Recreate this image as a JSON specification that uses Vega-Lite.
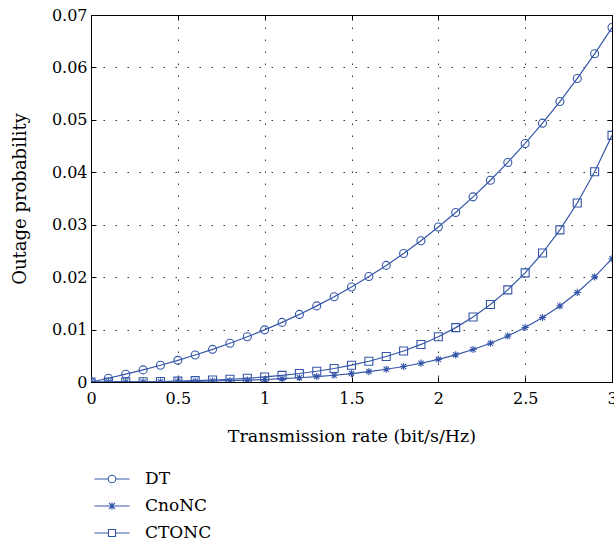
{
  "$schema": "https://vega.github.io/schema/vega-lite/v6.json",
  "autosize": "none",
  "width": 521,
  "height": 367,
  "padding": {"left": 91, "top": 15, "right": 2, "bottom": 166},
  "config": {"view": {"stroke": "#000", "strokeWidth": 1}, "font": "DejaVu Serif"},
  "data": {"values": [
    {"rate":0,"series":"DT","p":0},{"rate":0.1,"series":"DT","p":0.000717},{"rate":0.2,"series":"DT","p":0.001486},{"rate":0.3,"series":"DT","p":0.002309},{"rate":0.4,"series":"DT","p":0.00319},{"rate":0.5,"series":"DT","p":0.004134},{"rate":0.6,"series":"DT","p":0.005144},{"rate":0.7,"series":"DT","p":0.006226},{"rate":0.8,"series":"DT","p":0.007384},{"rate":0.9,"series":"DT","p":0.008623},{"rate":1,"series":"DT","p":0.00995},{"rate":1.1,"series":"DT","p":0.01137},{"rate":1.2,"series":"DT","p":0.01289},{"rate":1.3,"series":"DT","p":0.014516},{"rate":1.4,"series":"DT","p":0.016256},{"rate":1.5,"series":"DT","p":0.018117},{"rate":1.6,"series":"DT","p":0.02011},{"rate":1.7,"series":"DT","p":0.022239},{"rate":1.8,"series":"DT","p":0.024517},{"rate":1.9,"series":"DT","p":0.026952},{"rate":2,"series":"DT","p":0.029554},{"rate":2.1,"series":"DT","p":0.032337},{"rate":2.2,"series":"DT","p":0.03531},{"rate":2.3,"series":"DT","p":0.038486},{"rate":2.4,"series":"DT","p":0.041878},{"rate":2.5,"series":"DT","p":0.045501},{"rate":2.6,"series":"DT","p":0.049369},{"rate":2.7,"series":"DT","p":0.053497},{"rate":2.8,"series":"DT","p":0.0579},{"rate":2.9,"series":"DT","p":0.062599},{"rate":3,"series":"DT","p":0.067606},
    {"rate":0,"series":"CnoNC","p":0},{"rate":0.1,"series":"CnoNC","p":0.0000025},{"rate":0.2,"series":"CnoNC","p":0.0000106},{"rate":0.3,"series":"CnoNC","p":0.0000256},{"rate":0.4,"series":"CnoNC","p":0.000049},{"rate":0.5,"series":"CnoNC","p":0.0000824},{"rate":0.6,"series":"CnoNC","p":0.000128},{"rate":0.7,"series":"CnoNC","p":0.000187},{"rate":0.8,"series":"CnoNC","p":0.000264},{"rate":0.9,"series":"CnoNC","p":0.00036},{"rate":1,"series":"CnoNC","p":0.00048},{"rate":1.1,"series":"CnoNC","p":0.000628},{"rate":1.2,"series":"CnoNC","p":0.000808},{"rate":1.3,"series":"CnoNC","p":0.001026},{"rate":1.4,"series":"CnoNC","p":0.001289},{"rate":1.5,"series":"CnoNC","p":0.001605},{"rate":1.6,"series":"CnoNC","p":0.001981},{"rate":1.7,"series":"CnoNC","p":0.002428},{"rate":1.8,"series":"CnoNC","p":0.002957},{"rate":1.9,"series":"CnoNC","p":0.003583},{"rate":2,"series":"CnoNC","p":0.00432},{"rate":2.1,"series":"CnoNC","p":0.005186},{"rate":2.2,"series":"CnoNC","p":0.006203},{"rate":2.3,"series":"CnoNC","p":0.007393},{"rate":2.4,"series":"CnoNC","p":0.008785},{"rate":2.5,"series":"CnoNC","p":0.010409},{"rate":2.6,"series":"CnoNC","p":0.012304},{"rate":2.7,"series":"CnoNC","p":0.01451},{"rate":2.8,"series":"CnoNC","p":0.017076},{"rate":2.9,"series":"CnoNC","p":0.020058},{"rate":3,"series":"CnoNC","p":0.02352},
    {"rate":0,"series":"CTONC","p":0},{"rate":0.1,"series":"CTONC","p":0.000005},{"rate":0.2,"series":"CTONC","p":0.000021},{"rate":0.3,"series":"CTONC","p":0.000051},{"rate":0.4,"series":"CTONC","p":0.000098},{"rate":0.5,"series":"CTONC","p":0.000165},{"rate":0.6,"series":"CTONC","p":0.000255},{"rate":0.7,"series":"CTONC","p":0.000374},{"rate":0.8,"series":"CTONC","p":0.000527},{"rate":0.9,"series":"CTONC","p":0.00072},{"rate":1,"series":"CTONC","p":0.00096},{"rate":1.1,"series":"CTONC","p":0.001255},{"rate":1.2,"series":"CTONC","p":0.001616},{"rate":1.3,"series":"CTONC","p":0.002053},{"rate":1.4,"series":"CTONC","p":0.002579},{"rate":1.5,"series":"CTONC","p":0.003209},{"rate":1.6,"series":"CTONC","p":0.003962},{"rate":1.7,"series":"CTONC","p":0.004856},{"rate":1.8,"series":"CTONC","p":0.005915},{"rate":1.9,"series":"CTONC","p":0.007166},{"rate":2,"series":"CTONC","p":0.00864},{"rate":2.1,"series":"CTONC","p":0.010373},{"rate":2.2,"series":"CTONC","p":0.012406},{"rate":2.3,"series":"CTONC","p":0.014786},{"rate":2.4,"series":"CTONC","p":0.017569},{"rate":2.5,"series":"CTONC","p":0.020819},{"rate":2.6,"series":"CTONC","p":0.024607},{"rate":2.7,"series":"CTONC","p":0.029019},{"rate":2.8,"series":"CTONC","p":0.034151},{"rate":2.9,"series":"CTONC","p":0.040116},{"rate":3,"series":"CTONC","p":0.04704}
  ]},
  "layer": [
    {
      "mark": {"type": "line", "color": "#3556a8", "strokeWidth": 1.2, "clip": true},
      "encoding": {
        "x": {"field": "rate", "type": "quantitative", "scale": {"domain": [0, 3], "nice": false},
          "axis": {"orient": "bottom", "values": [0,0.5,1,1.5,2,2.5,3], "format": "~g", "grid": true, "gridDash": [1.5, 10.5], "gridColor": "#000", "gridOpacity": 0.8,
            "tickSize": -5, "tickColor": "#000", "domainColor": "#000", "labelPadding": 13, "labelFlush": false, "labelOverlap": false, "labelFont": "DejaVu Serif", "labelFontSize": 16, "labelColor": "#000",
            "title": "Transmission rate (bit/s/Hz)", "titleFont": "DejaVu Serif", "titleFontSize": 17.5, "titleFontWeight": "normal", "titleColor": "#000", "titlePadding": 21}},
        "y": {"field": "p", "type": "quantitative", "scale": {"domain": [0, 0.07], "nice": false},
          "axis": {"orient": "left", "values": [0,0.01,0.02,0.03,0.04,0.05,0.06,0.07], "format": "~g", "grid": true, "gridDash": [1.5, 10.5], "gridColor": "#000", "gridOpacity": 0.8,
            "tickSize": -5, "tickColor": "#000", "domainColor": "#000", "labelPadding": 9, "labelFlush": false, "labelOverlap": false, "labelFont": "DejaVu Serif", "labelFontSize": 16, "labelColor": "#000",
            "title": "Outage probability", "titleFont": "DejaVu Serif", "titleFontSize": 18, "titleFontWeight": "normal", "titleColor": "#000", "titlePadding": 22}},
        "detail": {"field": "series"}
      }
    },
    {
      "mark": {"type": "point", "color": "#3556a8", "filled": false, "size": 64, "strokeWidth": 1.1, "opacity": 1, "clip": true},
      "encoding": {
        "x": {"field": "rate", "type": "quantitative",
          "axis": {"orient": "top", "values": [0,0.5,1,1.5,2,2.5,3], "labels": false, "grid": false, "tickSize": -5, "tickColor": "#000", "domainColor": "#000", "title": null}},
        "y": {"field": "p", "type": "quantitative",
          "axis": {"orient": "right", "values": [0,0.01,0.02,0.03,0.04,0.05,0.06,0.07], "labels": false, "grid": false, "tickSize": -5, "tickColor": "#000", "domainColor": "#000", "title": null}},
        "shape": {"field": "series", "type": "nominal", "legend": null,
          "scale": {"domain": ["DT", "CnoNC", "CTONC"], "range": ["circle", "M-0.9,0H0.9M0,-0.9V0.9M-0.65,-0.65L0.65,0.65M-0.65,0.65L0.65,-0.65", "square"]}}
      }
    },
    {
      "mark": {"type": "point", "color": "#3556a8", "filled": false, "opacity": 0},
      "encoding": {
        "x": {"field": "rate", "type": "quantitative", "axis": null},
        "y": {"field": "p", "type": "quantitative", "axis": null},
        "shape": {"field": "series", "type": "nominal",
          "scale": {"domain": ["DT", "CnoNC", "CTONC"], "range": [
            "M-1.75,0H-0.38M0.38,0H1.75M-0.38,0A0.38,0.38,0,1,0,0.38,0A0.38,0.38,0,1,0,-0.38,0",
            "M-1.75,0H1.75M0,-0.38V0.38M-0.3,-0.3L0.3,0.3M-0.3,0.3L0.3,-0.3",
            "M-1.75,0H-0.35M0.35,0H1.75M-0.35,-0.35H0.35V0.35H-0.35Z"]},
          "legend": {"orient": "none", "legendX": 10, "legendY": 453, "title": null, "symbolSize": 400, "symbolOpacity": 1,
            "symbolStrokeColor": "#3556a8", "symbolFillColor": "transparent", "symbolStrokeWidth": 1.1,
            "labelFont": "DejaVu Serif", "labelFontSize": 17, "labelColor": "#000", "labelOffset": 22, "rowPadding": 8}}
      }
    }
  ],
  "resolve": {"scale": {"shape": "independent"}}
}
